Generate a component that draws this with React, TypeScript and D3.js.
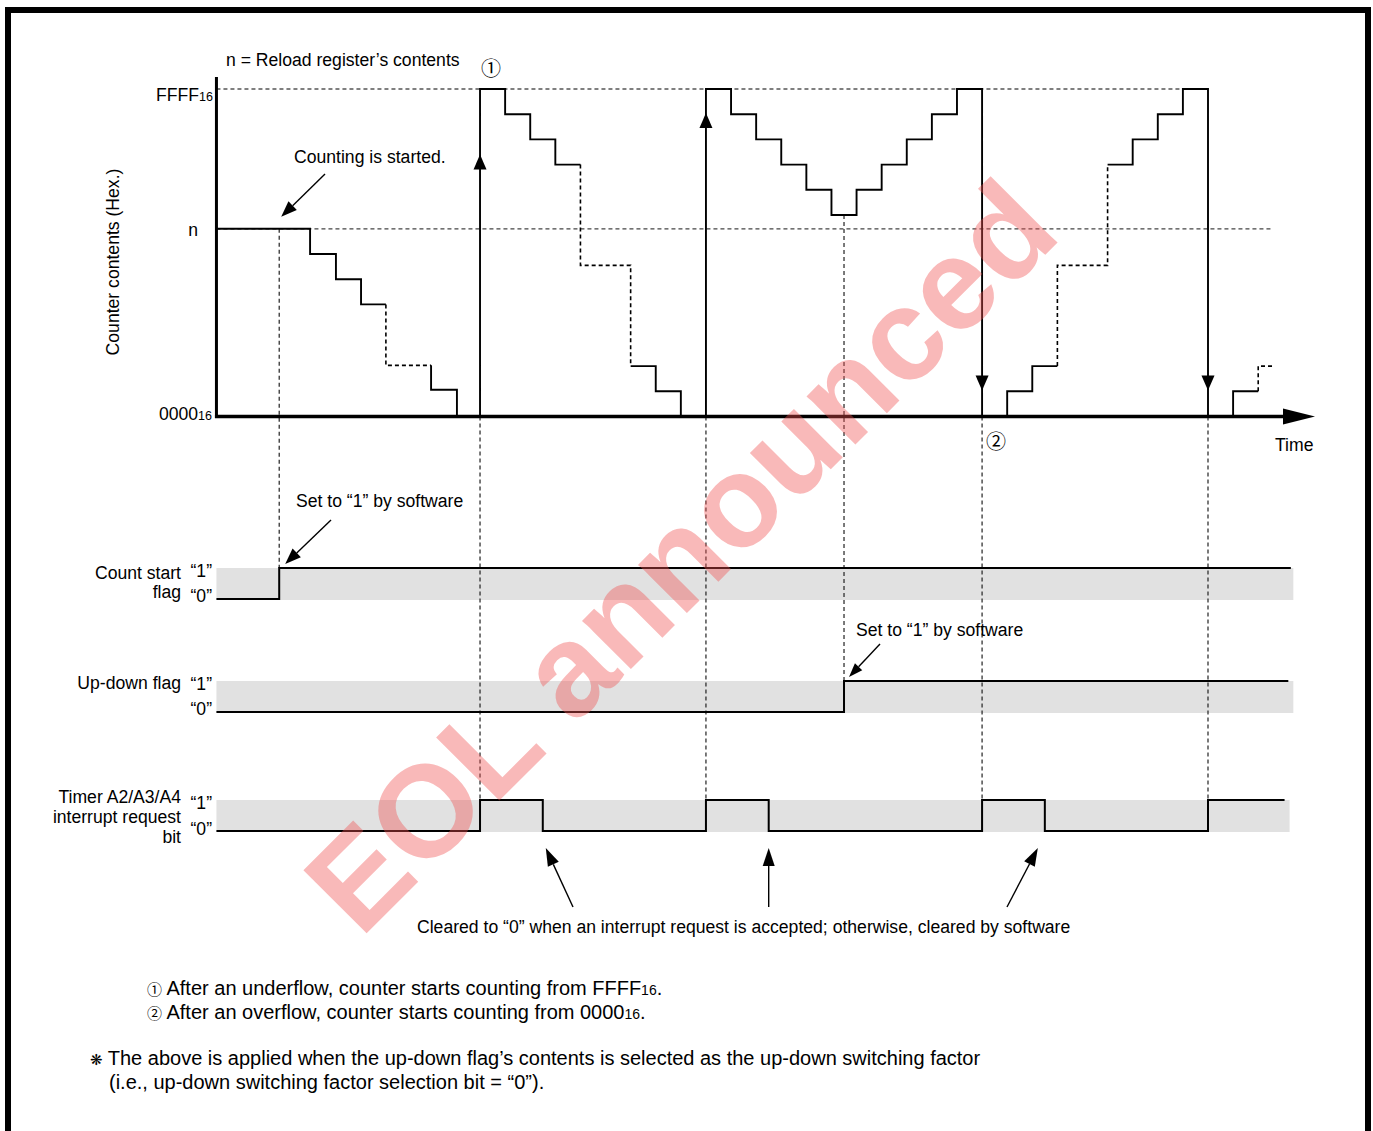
import React from "react";
import * as d3 from "d3";

// ---------- DATA ----------
// counter levels (in "step" units): 0000 = 0, FFFF = 13, n = reload value
const LEVEL_ZERO = 0;
const LEVEL_FFFF = 13;
const LEVEL_N = 7.45;

// counter trace points: [time, value, dashed segment leading to this point]
const counterTrace: [number, number, boolean][] = [
  [-0.5, 7.45, false], [3.23, 7.45, false], [3.23, 6.45, false], [4.26, 6.45, false],
  [4.26, 5.45, false], [5.26, 5.45, false], [5.26, 4.45, false], [6.25, 4.45, false],
  [6.25, 2.03, true], [8.05, 2.03, true], [8.05, 1.06, false], [9.08, 1.06, false],
  [9.08, 0, false], [10, 0, false], [10, 13, false], [11, 13, false], [11, 12, false],
  [12, 12, false], [12, 11, false], [13, 11, false], [13, 10, false], [14, 10, false],
  [14, 6, true], [16, 6, true], [16, 2, true], [17, 2, false], [17, 1, false],
  [18, 1, false], [18, 0, false], [19, 0, false], [19, 13, false], [20, 13, false],
  [20, 12, false], [21, 12, false], [21, 11, false], [22, 11, false], [22, 10, false],
  [23, 10, false], [23, 9, false], [24, 9, false], [24, 8, false], [25, 8, false],
  [25, 9, false], [26, 9, false], [26, 10, false], [27, 10, false], [27, 11, false],
  [28, 11, false], [28, 12, false], [29, 12, false], [29, 13, false], [30, 13, false],
  [30, 0, false], [31, 0, false], [31, 1, false], [32, 1, false], [32, 2, false],
  [33, 2, false], [33, 6, true], [35, 6, true], [35, 10, true], [36, 10, false],
  [36, 11, false], [37, 11, false], [37, 12, false], [38, 12, false], [38, 13, false],
  [39, 13, false], [39, 0, false], [40, 0, false], [40, 1, false], [41, 1, false],
  [41, 2, true], [41.55, 2, true],
];

// arrowheads on the underflow (up) / overflow (down) jumps: [time, tip value]
const underflowArrows: [number, number][] = [[10, 10.4], [19, 12.05]];
const overflowArrows: [number, number][] = [[30, 1.03], [39, 1.03]];

// vertical guide lines: [time, counter value it starts from, signal row it ends on]
const guides: [number, number, string][] = [
  [2, 7.45, "countStart"],
  [10, 0, "irq"],
  [19, 0, "irq"],
  [24.5, 8, "upDown"],
  [30, 0, "irq"],
  [39, 0, "irq"],
];

// signals: [time, level]
const countStartFlag: [number, number][] = [[-0.5, 0], [2, 1], [42.3, 1]];
const upDownFlag: [number, number][] = [[-0.5, 0], [24.5, 1], [42.2, 1]];
const irqBit: [number, number][] = [
  [-0.5, 0], [10, 1], [12.5, 0], [19, 1], [21.5, 0], [30, 1], [32.5, 0], [39, 1], [42.05, 1],
];

const rowLabels: Record<string, string[]> = {
  countStart: ["Count start", "flag"],
  upDown: ["Up-down flag"],
  irq: ["Timer A2/A3/A4", "interrupt request", "bit"],
};

// times the "cleared" arrows point at (falling edges)
const clearedTimes = [12.5, 21.5, 32.5];

const notes = [
  " After an underflow, counter starts counting from FFFF",
  " After an overflow, counter starts counting from 0000",
];
const noteMarks = ["\u2460", "\u2461"];

// ---------- LAYOUT ----------
const W = 1373;
const H = 1131;
const FONT = "'Liberation Sans', Arial, Helvetica, sans-serif";
const CJK = "'Noto Sans CJK JP', 'DejaVu Sans', sans-serif";
const FS = 17.6;

const x = d3.scaleLinear().domain([0, 39]).range([229, 1208]);
const y = d3.scaleLinear().domain([LEVEL_ZERO, LEVEL_FFFF]).range([416.5, 89]);

const rows: Record<string, { hi: number; lo: number; bandTop: number; bandBot: number; bandEnd: number; labelY: number[]; q1: number; q0: number }> = {
  countStart: { hi: 568, lo: 599, bandTop: 568, bandBot: 600, bandEnd: 42.4, labelY: [579, 598], q1: 577, q0: 602 },
  upDown: { hi: 681, lo: 712, bandTop: 681, bandBot: 713, bandEnd: 42.4, labelY: [689], q1: 690, q0: 715 },
  irq: { hi: 800, lo: 831, bandTop: 800, bandBot: 832, bandEnd: 42.25, labelY: [803, 823, 843], q1: 809, q0: 835 },
};

function Arrow({ x1, y1, x2, y2, len = 16, half = 6 }: { x1: number; y1: number; x2: number; y2: number; len?: number; half?: number }) {
  const dx = x2 - x1;
  const dy = y2 - y1;
  const L = Math.hypot(dx, dy);
  const ux = dx / L;
  const uy = dy / L;
  const bx = x2 - ux * len;
  const by = y2 - uy * len;
  const px = -uy * half;
  const py = ux * half;
  return (
    <g>
      <line x1={x1} y1={y1} x2={bx} y2={by} stroke="#000" strokeWidth={1.4} />
      <polygon points={`${x2},${y2} ${bx + px},${by + py} ${bx - px},${by - py}`} fill="#000" />
    </g>
  );
}

export default function App() {
  // build trace segments grouped by style
  const segs: { dashed: boolean; pts: [number, number][] }[] = [];
  for (let i = 1; i < counterTrace.length; i++) {
    const [t0, v0] = counterTrace[i - 1];
    const [t1, v1, d] = counterTrace[i];
    const last = segs[segs.length - 1];
    if (last && last.dashed === d) {
      last.pts.push([t1, v1]);
    } else {
      segs.push({ dashed: d, pts: [[t0, v0], [t1, v1]] });
    }
  }
  const traceLine = d3.line<[number, number]>().x((p) => x(p[0])).y((p) => y(p[1]));

  const sigLine = (data: [number, number][], row: string) =>
    d3
      .line<[number, number]>()
      .x((p) => x(p[0]))
      .y((p) => (p[1] ? rows[row].hi : rows[row].lo))
      .curve(d3.curveStepAfter)(data) as string;

  const signals: [string, [number, number][]][] = [
    ["countStart", countStartFlag],
    ["upDown", upDownFlag],
    ["irq", irqBit],
  ];

  const axisTop = 77;
  const axisEndX = 1315;

  return (
    <svg
      width={W}
      height={H}
      viewBox={`0 0 ${W} ${H}`}
      style={{ position: "absolute", left: 0, top: 0, display: "block", background: "#fff" }}
      fontFamily={FONT}
      fontSize={FS}
    >
      <rect x={0} y={0} width={W} height={H} fill="#fff" />
      {/* frame */}
      <rect x={8} y={10} width={1360} height={1200} fill="none" stroke="#000" strokeWidth={6} />

      {/* signal bands */}
      {Object.keys(rows).map((k) => (
        <rect
          key={k}
          x={x(-0.5)}
          y={rows[k].bandTop}
          width={x(rows[k].bandEnd) - x(-0.5)}
          height={rows[k].bandBot - rows[k].bandTop}
          fill="#e1e1e1"
        />
      ))}

      {/* reference dashed lines */}
      <line x1={x(-0.5)} x2={x(38)} y1={y(LEVEL_FFFF)} y2={y(LEVEL_FFFF)} stroke="#000" strokeWidth={1.2} strokeDasharray="4,3" />
      <line x1={x(-0.5)} x2={x(41.55)} y1={y(LEVEL_N)} y2={y(LEVEL_N)} stroke="#444" strokeWidth={1.2} strokeDasharray="4,3" />

      {/* vertical guides */}
      {guides.map(([t, v, row], i) => (
        <line
          key={i}
          x1={x(t)}
          x2={x(t)}
          y1={y(v)}
          y2={rows[row].hi}
          stroke="#222"
          strokeWidth={1.2}
          strokeDasharray="4,3"
        />
      ))}

      {/* counter trace */}
      {segs.map((s, i) => (
        <path
          key={i}
          d={traceLine(s.pts) as string}
          fill="none"
          stroke="#000"
          strokeWidth={s.dashed ? 1.6 : 1.9}
          strokeDasharray={s.dashed ? "4,3" : undefined}
        />
      ))}
      {underflowArrows.map(([t, v], i) => (
        <polygon
          key={"u" + i}
          points={`${x(t)},${y(v)} ${x(t) - 6.5},${y(v) + 15} ${x(t) + 6.5},${y(v) + 15}`}
          fill="#000"
        />
      ))}
      {overflowArrows.map(([t, v], i) => (
        <polygon
          key={"o" + i}
          points={`${x(t)},${y(v)} ${x(t) - 6.5},${y(v) - 15} ${x(t) + 6.5},${y(v) - 15}`}
          fill="#000"
        />
      ))}

      {/* axes */}
      <line x1={x(-0.5)} x2={x(-0.5)} y1={axisTop} y2={y(0) + 1.5} stroke="#000" strokeWidth={3} />
      <line x1={x(-0.5) - 1.5} x2={axisEndX - 20} y1={y(0)} y2={y(0)} stroke="#000" strokeWidth={3.5} />
      <polygon points={`${axisEndX},${y(0)} ${axisEndX - 32},${y(0) - 8} ${axisEndX - 32},${y(0) + 8}`} fill="#000" />

      {/* axis labels */}
      <text x={213} y={y(LEVEL_FFFF) + 12} textAnchor="end">
        FFFF<tspan fontSize={12.5}>16</tspan>
      </text>
      <text x={198} y={y(LEVEL_N) + 7} textAnchor="end">n</text>
      <text x={212} y={y(LEVEL_ZERO) + 3} textAnchor="end">
        0000<tspan fontSize={12.5}>16</tspan>
      </text>
      <text transform="translate(113,262) rotate(-90)" textAnchor="middle" dominantBaseline="central">
        Counter contents (Hex.)
      </text>
      <text x={226} y={66}>n = Reload register’s contents</text>
      <text x={491} y={67} fontFamily={CJK} fontSize={20} textAnchor="middle" dominantBaseline="central">{"\u2460"}</text>
      <text x={996} y={440} fontFamily={CJK} fontSize={20} textAnchor="middle" dominantBaseline="central">{"\u2461"}</text>
      <text x={1275} y={451}>Time</text>

      {/* annotations */}
      <text x={294} y={163}>Counting is started.</text>
      <Arrow x1={325} y1={174} x2={x(2) + 2} y2={y(LEVEL_N) - 12} />
      <text x={296} y={507}>Set to “1” by software</text>
      <Arrow x1={331} y1={520} x2={x(2) + 6} y2={rows.countStart.hi - 4} />
      <text x={856} y={636}>Set to “1” by software</text>
      <Arrow x1={880} y1={644} x2={x(24.5) + 5} y2={rows.upDown.hi - 4} len={14} half={5} />

      {/* signals */}
      {signals.map(([row, data]) => (
        <path key={row} d={sigLine(data, row)} fill="none" stroke="#000" strokeWidth={2} />
      ))}

      {/* row labels */}
      {Object.keys(rows).map((k) => (
        <g key={"l" + k}>
          {rowLabels[k].map((s, i) => (
            <text key={i} x={181} y={rows[k].labelY[i]} textAnchor="end">{s}</text>
          ))}
          <text x={212} y={rows[k].q1} textAnchor="end">“1”</text>
          <text x={212} y={rows[k].q0} textAnchor="end">“0”</text>
        </g>
      ))}

      {/* cleared arrows */}
      <Arrow x1={573} y1={907} x2={x(clearedTimes[0]) + 3} y2={848} len={18} half={6} />
      <Arrow x1={x(clearedTimes[1])} y1={907} x2={x(clearedTimes[1])} y2={848} len={18} half={6} />
      <Arrow x1={1007} y1={907} x2={x(clearedTimes[2]) - 7} y2={848} len={18} half={6} />
      <text x={417} y={933}>Cleared to “0” when an interrupt request is accepted; otherwise, cleared by software</text>

      {/* notes */}
      <g fontSize={20}>
        {notes.map((s, i) => (
          <text key={i} x={147} y={995 + i * 24}>
            <tspan fontFamily={CJK} fontSize={15}>{noteMarks[i]}</tspan>
            {s}
            <tspan fontSize={14}>16</tspan>.
          </text>
        ))}
        <text x={90} y={1065}>
          <tspan fontFamily="'DejaVu Sans', sans-serif" fontSize={15}>{"\u274B"}</tspan> The above is applied when the up-down flag’s contents is selected as the up-down switching factor
        </text>
        <text x={109} y={1089}>(i.e., up-down switching factor selection bit = “0”).</text>
      </g>

      {/* watermark */}
      <text
        transform="translate(712,588) rotate(-45)"
        textAnchor="middle"
        fontFamily={FONT}
        fontWeight="bold"
        fontSize={130}
        fill="rgb(240,80,80)"
        fillOpacity={0.4}
        style={{ pointerEvents: "none" }}
      >
        EOL announced
      </text>
    </svg>
  );
}
